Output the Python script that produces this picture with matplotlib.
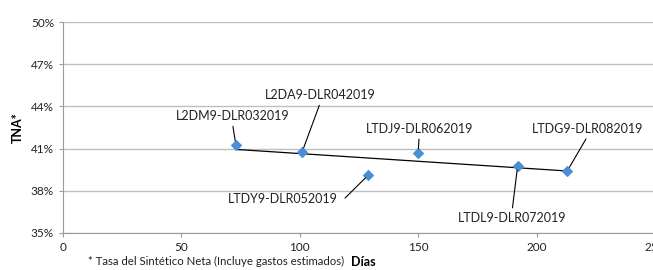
import numpy as np
import matplotlib
matplotlib.use("Agg")
import matplotlib.pyplot as plt

plt.rcParams['font.family'] = ['Lato', 'DejaVu Sans']

# data
bonos = ["L2DM9-DLR032019", "L2DA9-DLR042019", "LTDY9-DLR052019",
         "LTDJ9-DLR062019", "LTDL9-DLR072019", "LTDG9-DLR082019"]
dias = [73, 101, 129, 150, 192, 213]
tna = [41.26, 40.76, 39.12, 40.69, 39.76, 39.41]

# label centres (days, tna) for the callouts
lab_x = [71.6, 108.6, 92.7, 150.4, 189.7, 221.4]
lab_y = [43.3, 44.79, 37.4, 42.39, 36.05, 42.39]

y_ticks = [35, 38, 41, 44, 47, 50]
x_ticks = [0, 50, 100, 150, 200, 250]

fig = plt.figure(figsize=(6.53, 2.70), dpi=100)
ax = fig.add_axes([0.0965, 0.138, 0.9065, 0.78])

ax.set_xlim(0, 250)
ax.set_ylim(35, 50)
ax.set_yticks(y_ticks)
ax.set_yticklabels([str(t) + "%" for t in y_ticks])
ax.set_xticks(x_ticks)
ax.grid(axis='y', color='#bfbfbf', lw=1)
ax.set_axisbelow(True)
for s in ['top', 'right']:
    ax.spines[s].set_visible(False)
for s in ['left', 'bottom']:
    ax.spines[s].set_color('#9a9a9a')
ax.tick_params(axis='both', colors='#9a9a9a', labelcolor='#222222',
               labelsize=8.5, length=3)
ax.tick_params(axis='x', pad=4)

# linear trendline
c = np.polyfit(dias, tna, 1)
xx = np.array([min(dias), max(dias)])
ax.plot(xx, np.polyval(c, xx), color='black', lw=0.9, zorder=2)

ax.scatter(dias, tna, marker='D', s=24, color='#4a8fd6', zorder=3)

for b, x, y, lx, ly in zip(bonos, dias, tna, lab_x, lab_y):
    if b.startswith("LTDY"):
        rp = (1.06, 0.5)
    elif ly < y:
        rp = (0.5, 1.15)
    else:
        rp = (0.5, -0.15)
    ax.annotate(b, xy=(x, y), xytext=(lx, ly), fontsize=9,
                ha='center', va='center', color='#222222',
                arrowprops=dict(arrowstyle='-', color='black', lw=0.8,
                                shrinkA=1, shrinkB=3, relpos=rp))

ax.set_ylabel("TNA*", fontsize=9, fontweight='bold', labelpad=5)
fig.text(0.135, 0.03, "* Tasa del Sintético Neta (Incluye gastos estimados)",
         fontsize=8.2, color='#222222', va='center')
fig.text(0.538, 0.03, "Días", fontsize=9, fontweight='bold', va='center')

fig.savefig("out.png", dpi=100)
